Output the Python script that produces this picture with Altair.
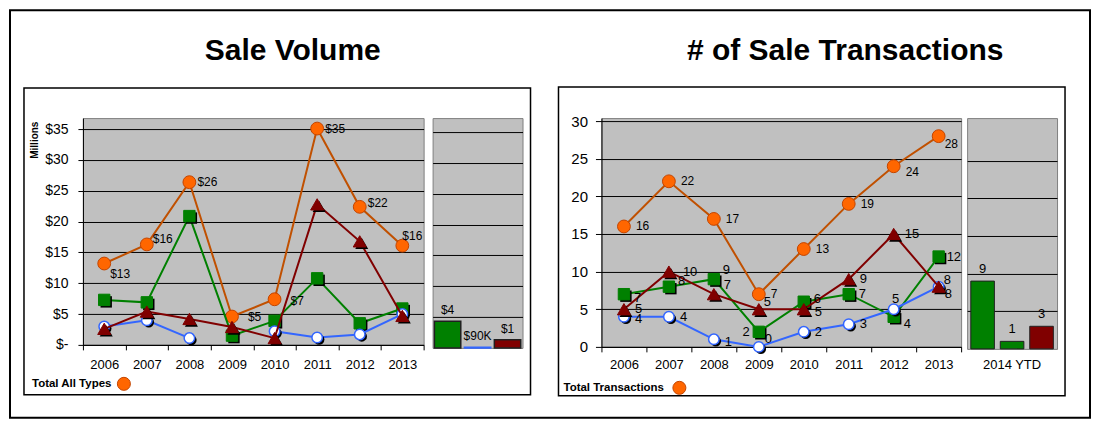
import altair as alt
import pandas as pd

# ---------------- data ----------------
years = ["2006", "2007", "2008", "2009", "2010", "2011", "2012", "2013"]

# Sale volume ($ millions)
vol_total = [13.2, 16.3, 26.4, 4.6, 7.4, 35.1, 22.4, 16.1]
vol_total_labels = ["$13", "$16", "$26", "$5", "$7", "$35", "$22", "$16"]
vol_green = [7.3, 6.9, 20.9, 1.5, 3.9, 10.8, 3.5, 5.9]
vol_blue = [3.0, 4.0, 1.1, None, 2.2, 1.2, 1.7, 5.0]
vol_red = [2.6, 5.4, 4.2, 2.9, 1.1, 22.8, 16.8, 4.7]

ytd_types = ["Type 1", "Type 2", "Type 3"]
ytd_vol = [4.3, 0.09, 1.3]
ytd_vol_labels = ["$4", "$90K", "$1"]

# Number of transactions
tx_total = [16, 22, 17, 7, 13, 19, 24, 28]
tx_green = [7, 8, 9, 2, 6, 7, 4, 12]
tx_blue = [4, 4, 1, 0, 2, 3, 5, 8]
tx_red = [5, 10, 7, 5, 5, 9, 15, 8]
ytd_tx = [9, 1, 3]
ytd_tx_labels = ["9", "1", "3"]

vol_ticks = [0, 5, 10, 15, 20, 25, 30, 35]
tx_ticks = [0, 5, 10, 15, 20, 25, 30]

title_vol = ["Sale Volume"]
title_tx = ["# of Sale Transactions"]
legend_vol = ["Total All Types"]
legend_tx = ["Total Transactions"]
ytd_category = ["2014 YTD"]
vol_axis_title = "Millions"

# ---------------- styling ----------------
FONT = "Liberation Sans"
PLOT_BG = "#C0C0C0"
PLOT_BORDER = "#808080"
ORANGE_FILL = "#FF6600"
ORANGE_EDGE = "#C24400"
ORANGE_LINE = "#C05000"
GREEN = "#008000"
RED = "#800000"
BLUE = "#3366FF"
BAR_EDGE = "#202020"

LW, LH = 341, 227
LBW, LBH = 90, 230
RW, RH = 360, 229
RBW, RBH = 90, 231
L_DOM = [0, 36.8]
LB_DOM = [0, 37.27]
R_DOM = [0, 30.4]
RB_DOM = [0, 30.65]


def series_df(vals, labels=None):
    rows, seg = [], 0
    for i, (yr, v) in enumerate(zip(years, vals)):
        if v is None:
            seg += 1
            continue
        rows.append({"year": yr, "value": v, "seg": seg,
                     "label": labels[i] if labels else str(v)})
    return pd.DataFrame(rows)


one = pd.DataFrame({"k": [0]})


def x_enc(label_padding):
    return alt.X("year:N", sort=years, bandPosition=0.5,
                 scale=alt.Scale(type="band", paddingInner=0, paddingOuter=0),
                 axis=alt.Axis(title=None, labelAngle=0, tickBand="extent", tickSize=5,
                               tickColor="black", domainColor="black", labelFontSize=13,
                               labelColor="black", labelPadding=label_padding, grid=False))


def series_layers(df, X, Y, line_color, shape, size, fill, stroke, stroke_w, shadow):
    layers = [alt.Chart(df).mark_line(color=line_color, strokeWidth=2).encode(
        x=X, y=Y, detail="seg:N")]
    if shadow:
        layers.append(alt.Chart(df).mark_point(
            shape=shape, size=size, filled=True, color="black", opacity=1,
            xOffset=2, yOffset=2).encode(x=X, y=Y))
    layers.append(alt.Chart(df).mark_point(
        shape=shape, size=size, filled=True, fill=fill, stroke=stroke,
        strokeWidth=stroke_w, opacity=1).encode(x=X, y=Y))
    return layers


def label_layers(df, X, Y, base, overrides, size):
    groups = {}
    for yr in df["year"]:
        cfg = dict(base)
        cfg.update(overrides.get(yr, {}))
        key = (cfg["dx"], cfg["dy"], cfg["align"])
        groups.setdefault(key, []).append(yr)
    out = []
    for (dx, dy, align), ys in groups.items():
        out.append(alt.Chart(df).transform_filter(
            alt.FieldOneOfPredicate(field="year", oneOf=ys)
        ).mark_text(dx=dx, dy=dy, align=align, baseline="middle", fontSize=size,
                    color="black").encode(x=X, y=Y, text="label:N"))
    return out


def deco_rect(x1, x2, y1, y2, width):
    return alt.Chart(one).mark_rect(fill="white", fillOpacity=0, stroke="black",
                                    strokeWidth=width).encode(
        x=alt.value(x1), x2=alt.value(x2), y=alt.value(y1), y2=alt.value(y2))


def deco_text(txt, x, y, size, weight="normal", align="center", baseline="alphabetic"):
    return alt.Chart(pd.DataFrame({"t": txt})).mark_text(
        fontSize=size, fontWeight=weight, align=align, baseline=baseline,
        color="black").encode(text="t:N", x=alt.value(x), y=alt.value(y))


def legend_marker(x, y):
    return alt.Chart(one).mark_point(shape="circle", filled=True, fill=ORANGE_FILL,
                                     stroke=ORANGE_EDGE, strokeWidth=1, size=170,
                                     opacity=1).encode(x=alt.value(x), y=alt.value(y))


# ---------------- left: sale volume ----------------
XL = x_enc(9)
YL = alt.Y("value:Q", scale=alt.Scale(domain=L_DOM, nice=False, zero=True),
           axis=alt.Axis(values=vol_ticks,
                         labelExpr="datum.value == 0 ? '$-' : '$' + datum.value",
                         grid=True, gridColor="black", gridWidth=1, tickSize=5,
                         tickColor="black", domainColor="black", labelFontSize=14,
                         labelColor="black", labelPadding=10,
                         title=vol_axis_title, titleFontSize=10, titleFontWeight="bold",
                         titleAngle=270, titleX=-48, titleY=3, titleAlign="right",
                         titleBaseline="middle", titleColor="black"))

d_vt = series_df(vol_total, vol_total_labels)
d_vg = series_df(vol_green)
d_vb = series_df(vol_blue)
d_vr = series_df(vol_red)

left_layers = [
    deco_rect(-73, 1008, -108, 300, 2),
    deco_rect(-59, 448, -30, 277, 1.5),
    deco_text(title_vol, 210, -58, 30, "bold"),
    deco_text(legend_vol, -51, 266, 11.5, "bold", "left", "middle"),
    legend_marker(41, 266),
]
left_layers += series_layers(d_vt, XL, YL, ORANGE_LINE, "circle", 165, ORANGE_FILL, ORANGE_EDGE, 1, False)
left_layers += series_layers(d_vg, XL, YL, GREEN, "square", 130, GREEN, GREEN, 1, True)
left_layers += series_layers(d_vb, XL, YL, BLUE, "circle", 110, "white", BLUE, 1.5, True)
left_layers += series_layers(d_vr, XL, YL, RED, "triangle-up", 170, RED, RED, 1, True)
left_layers += label_layers(d_vt, XL, YL, {"dx": 8, "dy": 0, "align": "left"},
                            {"2006": {"dx": 6, "dy": 10}, "2007": {"dx": 6, "dy": -5},
                             "2009": {"dx": 16}, "2010": {"dx": 16, "dy": 2},
                             "2012": {"dy": -4}, "2013": {"dx": 0, "dy": -10}}, 12)

left_line = alt.layer(*left_layers).properties(
    width=LW, height=LH,
    view=alt.ViewBackground(fill=PLOT_BG, stroke=PLOT_BORDER, strokeWidth=1))

# left YTD bars
d_lb = pd.DataFrame({"type": ytd_types, "value": ytd_vol, "label": ytd_vol_labels})
XB = alt.X("type:N", sort=ytd_types, axis=None,
           scale=alt.Scale(paddingInner=0.12, paddingOuter=0.06))
YLB = alt.Y("value:Q", scale=alt.Scale(domain=LB_DOM, nice=False),
            axis=alt.Axis(values=vol_ticks[1:], grid=True, gridColor="black", labels=False,
                          ticks=False, domain=False, title=None))
left_bars = alt.layer(
    alt.Chart(d_lb).mark_bar(strokeWidth=1.5).encode(
        x=XB, y=YLB,
        color=alt.Color("type:N", scale=alt.Scale(domain=ytd_types, range=[GREEN, BLUE, RED]),
                        legend=None),
        stroke=alt.Stroke("type:N",
                          scale=alt.Scale(domain=ytd_types, range=[BAR_EDGE, BLUE, BAR_EDGE]),
                          legend=None)),
    alt.Chart(d_lb).mark_text(baseline="bottom", dy=-4, fontSize=12, color="black").encode(
        x=XB, y=YLB, text="label:N"),
).properties(width=LBW, height=LBH,
             view=alt.ViewBackground(fill=PLOT_BG, stroke=PLOT_BORDER, strokeWidth=1))

# ---------------- right: transactions ----------------
XR = x_enc(7)
YR = alt.Y("value:Q", scale=alt.Scale(domain=R_DOM, nice=False, zero=True),
           axis=alt.Axis(values=tx_ticks, grid=True, gridColor="black", gridWidth=1,
                         tickSize=6, tickColor="black", domainColor="black",
                         labelFontSize=15, labelColor="black", labelPadding=8, title=None))

d_tt = series_df(tx_total)
d_tg = series_df(tx_green)
d_tb = series_df(tx_blue)
d_tr = series_df(tx_red)

right_layers = [
    deco_rect(-43, 464, -31, 278, 1.5),
    deco_text(title_tx, 244, -58, 30, "bold"),
    deco_text(legend_tx, -38, 270, 11.5, "bold", "left", "middle"),
    legend_marker(78, 270),
]
right_layers += series_layers(d_tt, XR, YR, ORANGE_LINE, "circle", 165, ORANGE_FILL, ORANGE_EDGE, 1, False)
right_layers += series_layers(d_tg, XR, YR, GREEN, "square", 130, GREEN, GREEN, 1, True)
right_layers += series_layers(d_tb, XR, YR, BLUE, "circle", 110, "white", BLUE, 1.5, True)
right_layers += series_layers(d_tr, XR, YR, RED, "triangle-up", 170, RED, RED, 1, True)
right_layers += label_layers(d_tt, XR, YR, {"dx": 12, "dy": 0, "align": "left"},
                             {"2012": {"dy": 6}, "2013": {"dx": 6, "dy": 8}}, 12)
right_layers += label_layers(d_tr, XR, YR, {"dx": 11, "dy": 0, "align": "left"},
                             {"2007": {"dx": 14}, "2008": {"dx": 10, "dy": -9},
                              "2009": {"dx": 5, "dy": -7}, "2010": {"dy": 3},
                              "2013": {"dx": 6, "dy": 7}}, 13)
right_layers += label_layers(d_tg, XR, YR, {"dx": 10, "dy": 0, "align": "left"},
                             {"2006": {"dy": 4}, "2007": {"dx": 9, "dy": -6},
                              "2008": {"dx": 9, "dy": -9}, "2009": {"dx": -9, "align": "right"},
                              "2010": {"dy": -3}, "2012": {"dy": 7}, "2013": {"dx": 8}}, 13)
right_layers += label_layers(d_tb, XR, YR, {"dx": 11, "dy": 0, "align": "left"},
                             {"2006": {"dy": 2}, "2008": {"dy": 3}, "2009": {"dx": 6, "dy": -8},
                              "2012": {"dx": 2, "dy": -10, "align": "center"},
                              "2013": {"dx": 5, "dy": -7}}, 13)

right_line = alt.layer(*right_layers).properties(
    width=RW, height=RH,
    view=alt.ViewBackground(fill=PLOT_BG, stroke=PLOT_BORDER, strokeWidth=1))

d_rb = pd.DataFrame({"type": ytd_types, "value": ytd_tx, "label": ytd_tx_labels})
XRB = alt.X("type:N", sort=ytd_types, axis=None,
            scale=alt.Scale(paddingInner=0.2, paddingOuter=0.125))
YRB = alt.Y("value:Q", scale=alt.Scale(domain=RB_DOM, nice=False),
            axis=alt.Axis(values=tx_ticks[1:-1], grid=True, gridColor="black", labels=False,
                          ticks=False, domain=False, title=None))
right_bars = alt.layer(
    alt.Chart(d_rb).mark_bar(stroke=BAR_EDGE, strokeWidth=1).encode(
        x=XRB, y=YRB,
        color=alt.Color("type:N", scale=alt.Scale(domain=ytd_types, range=[GREEN, GREEN, RED]),
                        legend=None)),
    alt.Chart(d_rb).mark_text(baseline="bottom", dy=-5, fontSize=13, color="black").encode(
        x=XRB, y=YRB, text="label:N"),
    deco_text(ytd_category, RBW / 2, RBH + 16, 13, "normal", "center", "middle"),
).properties(width=RBW, height=RBH,
             view=alt.ViewBackground(fill=PLOT_BG, stroke=PLOT_BORDER, strokeWidth=1))


def spacer(w):
    return alt.Chart(one).mark_point(opacity=0).encode(
        x=alt.value(0), y=alt.value(0)).properties(
        width=w, height=1,
        view=alt.ViewBackground(fill="transparent", stroke="transparent", strokeWidth=0))


chart = alt.hconcat(
    left_line, spacer(9), left_bars, spacer(79), right_line, spacer(6), right_bars,
    spacing=0, bounds="flush"
).resolve_scale(
    color="independent", stroke="independent"
).properties(padding=0).configure(
    font=FONT
).configure_view(stroke="transparent").configure_axis(
    labelFont=FONT, titleFont=FONT
).configure_text(font=FONT)

chart.save("out.html", embed_options={"renderer": "svg", "actions": False})
